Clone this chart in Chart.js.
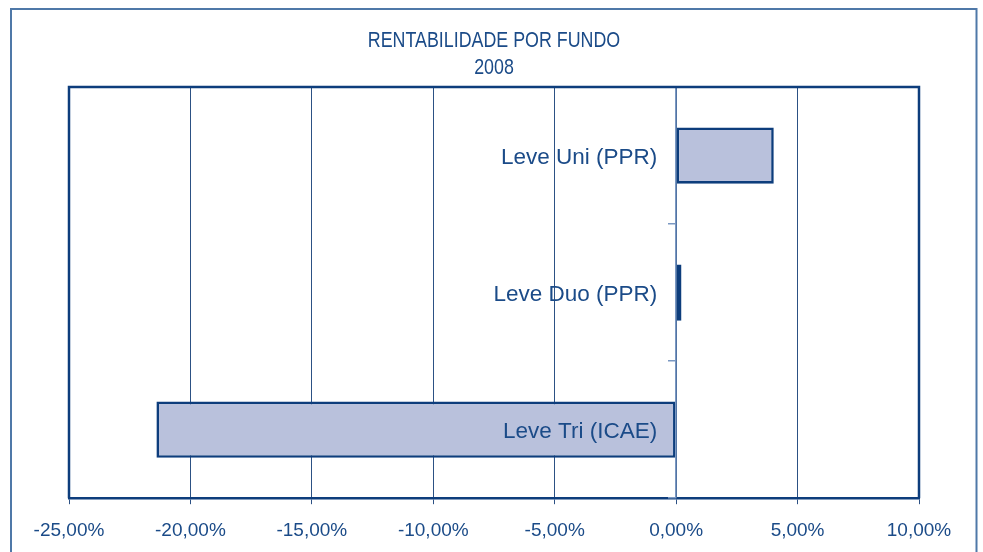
<!DOCTYPE html>
<html>
<head>
<meta charset="utf-8">
<script src="https://cdn.jsdelivr.net/npm/chart.js@4"></script>
<style>
  html, body { margin: 0; padding: 0; background: #ffffff; }
  #wrap { width: 983px; height: 552px; position: relative; }
</style>
</head>
<body>
<div id="wrap"><canvas id="c" width="983" height="552"></canvas></div>
<script>
// ---- data ----
const categories = ['Leve Uni (PPR)', 'Leve Duo (PPR)', 'Leve Tri (ICAE)'];
const returns2008 = [4.02, 0.22, -21.4];          // % per fund
const tickValues = [-25, -20, -15, -10, -5, 0, 5, 10];
const tickLabels = ['-25,00%', '-20,00%', '-15,00%', '-10,00%', '-5,00%', '0,00%', '5,00%', '10,00%'];
const titleLines = ['RENTABILIDADE POR FUNDO', '2008'];

// ---- styles ----
const TEXT = '#1b4b88';
const DARK = '#0d3d7c';
const GRID = '#2c5184';
const LIGHT = '#7a98c2';

function hasFont(name) {
  const cx = document.createElement('canvas').getContext('2d');
  cx.font = '22px monospace';
  const a = cx.measureText('RENTABILIDADE POR FUNDO').width;
  cx.font = '22px "' + name + '", monospace';
  const b = cx.measureText('RENTABILIDADE POR FUNDO').width;
  return Math.abs(a - b) > 1;
}
const narrow = hasFont('Liberation Sans Narrow');
const titleScale = narrow ? 1 : 0.83;   // emulate the condensed title face
const titleFont = narrow
  ? { family: '"Liberation Sans Narrow", "Liberation Sans", Arial, sans-serif', size: 22, weight: 'normal', lineHeight: '27px' }
  : { family: '"Liberation Sans", Arial, sans-serif', size: 21.5, weight: 'normal', lineHeight: '27px' };

const condensedTitle = {
  id: 'condensedTitle',
  afterLayout(chart) {
    const tb = chart.titleBlock;
    if (!tb || tb._wrapped) return;
    const orig = tb.draw;
    tb.draw = function () {
      const ctx = this.ctx;
      const cx = (this.left + this.right) / 2;
      ctx.save();
      ctx.translate(cx, 0);
      ctx.scale(titleScale, 1);
      ctx.translate(-cx, 0);
      orig.apply(this, arguments);
      ctx.restore();
    };
    tb._wrapped = true;
  }
};

const frames = {
  id: 'frames',
  afterDraw(chart) {
    const ctx = chart.ctx;
    const a = chart.chartArea;
    ctx.save();
    ctx.strokeStyle = '#4f78a8';
    ctx.lineWidth = 2;
    ctx.strokeRect(11, 9, 965.5, 600);
    ctx.strokeStyle = DARK;
    ctx.lineWidth = 2.5;
    ctx.beginPath();
    ctx.moveTo(a.left, a.bottom);
    ctx.lineTo(a.left, a.top);
    ctx.lineTo(a.right, a.top);
    ctx.lineTo(a.right, a.bottom);
    ctx.stroke();
    ctx.restore();
  }
};

new Chart(document.getElementById('c'), {
  type: 'bar',
  data: {
    labels: categories,
    datasets: [{
      data: returns2008,
      yAxisID: 'y',
      backgroundColor: '#b9c1dc',
      borderColor: DARK,
      borderWidth: 2.6,
      borderSkipped: false,
      barPercentage: 0.41,
      categoryPercentage: 1.0
    }]
  },
  options: {
    indexAxis: 'y',
    responsive: false,
    animation: false,
    devicePixelRatio: 1,
    layout: { padding: { left: 69, right: 64, top: 0, bottom: -5 } },
    plugins: {
      legend: { display: false },
      tooltip: { enabled: false },
      title: {
        display: true,
        text: titleLines,
        color: TEXT,
        font: titleFont,
        padding: { top: 28, bottom: 5 }
      }
    },
    scales: {
      x: {
        type: 'linear',
        min: -25,
        max: 10,
        afterBuildTicks(scale) { scale.ticks = tickValues.map(v => ({ value: v })); },
        ticks: {
          color: TEXT,
          font: { family: '"Liberation Sans", Arial, sans-serif', size: 19 },
          padding: 15,
          maxRotation: 0,
          autoSkip: false,
          callback(value) { const i = tickValues.indexOf(value); return i >= 0 ? tickLabels[i] : ''; }
        },
        grid: { color: GRID, lineWidth: 1, tickLength: 6, drawTicks: true, tickColor: GRID },
        border: { color: DARK, width: 2.5 }
      },
      y: {
        type: 'category',
        position: { x: 0 },
        offset: true,
        ticks: { display: false },
        grid: { drawOnChartArea: false, drawTicks: true, tickLength: 7, lineWidth: 1.5, color: LIGHT, tickColor: LIGHT, offset: true, z: 1 },
        border: { color: LIGHT, width: 1.5, z: 1 }
      },
      yLabels: {
        type: 'category',
        axis: 'y',
        labels: categories,
        position: { x: -0.78 },
        offset: true,
        ticks: {
          color: TEXT,
          font: { family: '"Liberation Sans", Arial, sans-serif', size: 22.5 },
          padding: 0,
          labelOffset: 2.5,
          autoSkip: false,
          z: 2
        },
        grid: { display: false, drawTicks: false },
        border: { display: false }
      }
    }
  },
  plugins: [condensedTitle, frames]
});
</script>
</body>
</html>
